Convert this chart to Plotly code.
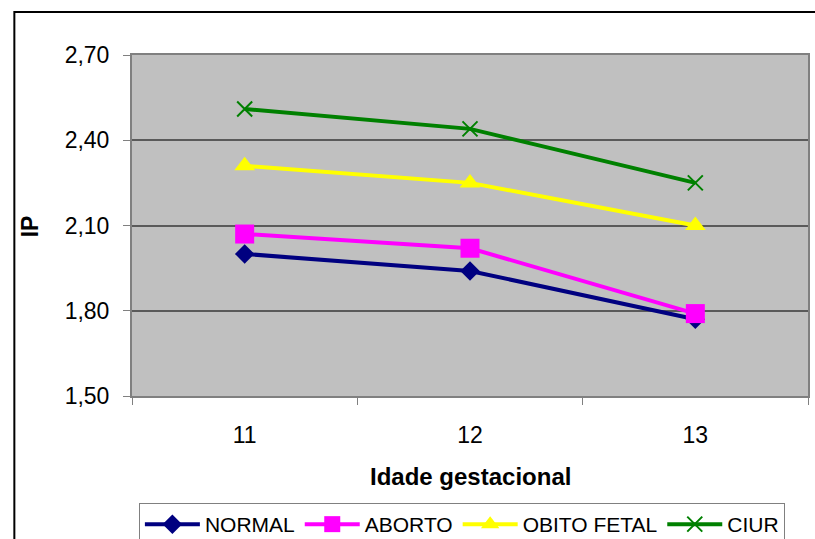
import plotly.graph_objects as go

categories = ["11", "12", "13"]
normal = [2.00, 1.94, 1.77]
aborto = [2.07, 2.02, 1.79]
obito_fetal = [2.31, 2.25, 2.10]
ciur = [2.51, 2.44, 2.25]

series = [
    ("NORMAL", normal, "#000080", "diamond", 15, None),
    ("ABORTO", aborto, "#FF00FF", "square", 19, None),
    ("OBITO FETAL", obito_fetal, "#FFFF00", "triangle-up", 18, None),
    ("CIUR", ciur, "#008000", "x-thin", 15, 2),
]

FONT = "Liberation Sans, Arial, sans-serif"

fig = go.Figure()
for name, vals, color, sym, size, lw in series:
    marker = dict(symbol=sym, size=size, color=color)
    if lw:
        marker["line"] = dict(color=color, width=lw)
    else:
        marker["line"] = dict(width=0)
    fig.add_trace(go.Scatter(
        x=categories, y=vals, name=name, mode="lines+markers",
        line=dict(color=color, width=4), marker=marker,
    ))

fig.update_layout(
    width=815, height=539,
    margin=dict(l=132, r=5, t=55, b=143),
    paper_bgcolor="white",
    plot_bgcolor="#C0C0C0",
    separators=",.",
    font=dict(family=FONT, color="black", size=23),
    showlegend=True,
    legend=dict(
        orientation="h", x=0.488, xanchor="center", xref="paper",
        yref="container", y=(539 - 503) / 539, yanchor="top",
        bordercolor="#808080", borderwidth=1, bgcolor="white",
        font=dict(size=21, family=FONT), itemwidth=55,
        traceorder="normal",
    ),
    xaxis=dict(
        type="category", range=[-0.5, 2.5],
        showgrid=False, showline=True, linecolor="#808080", linewidth=2,
        mirror=True, ticks="outside", tickson="boundaries", ticklen=7,
        tickcolor="#808080", tickwidth=1, ticklabelstandoff=17,
        tickfont=dict(size=23), zeroline=False,
    ),
    yaxis=dict(
        range=[1.5, 2.7], dtick=0.3, tick0=1.5, tickformat=".2f",
        showgrid=True, gridcolor="#5A5A5A", gridwidth=2,
        showline=True, linecolor="#808080", linewidth=2, mirror=True,
        ticks="outside", ticklen=7, tickcolor="#808080", tickwidth=1,
        ticklabelstandoff=9, tickfont=dict(size=23), zeroline=False,
    ),
    annotations=[
        dict(text="<b>Idade gestacional</b>", xref="paper", yref="paper",
             x=0.5, y=(396 - 476) / 341, xanchor="center", yanchor="middle",
             showarrow=False, font=dict(size=24, family=FONT)),
        dict(text="<b>IP</b>", xref="paper", yref="paper",
             x=(30 - 132) / 678, y=(396 - 226) / 341, xanchor="center",
             yanchor="middle", textangle=-90, showarrow=False,
             font=dict(size=23, family=FONT)),
    ],
    shapes=[
        dict(type="rect", xref="paper", yref="paper",
             x0=(14 - 132) / 678, x1=1.2, y0=-0.7, y1=(396 - 12) / 341,
             line=dict(color="black", width=2), fillcolor="rgba(0,0,0,0)",
             layer="below"),
    ],
)

fig.write_html("out.html")
